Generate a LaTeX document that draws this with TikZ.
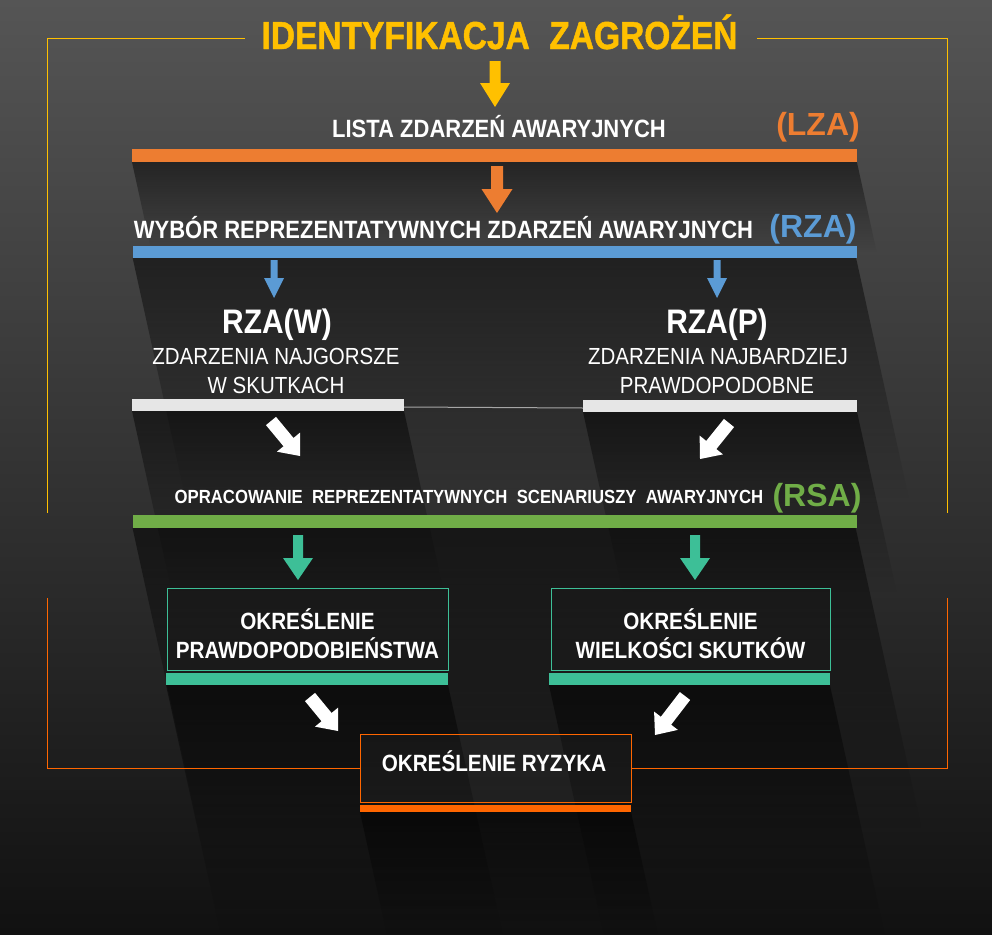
\documentclass[tikz,border=0pt]{standalone}
\usepackage{fontspec}
\setmainfont[FakeStretch=0.88]{Liberation Sans}
\newfontfamily\widefont{Liberation Sans}
\newfontfamily\heavyfont[FakeStretch=0.86,FakeBold=1.2]{Liberation Sans}
\usetikzlibrary{fadings,calc}
\definecolor{yel}{HTML}{FFC000}
\definecolor{ora}{HTML}{ED7D31}
\definecolor{org}{HTML}{FF6600}
\definecolor{blu}{HTML}{5B9BD5}
\definecolor{grn}{HTML}{70AD47}
\definecolor{tea}{HTML}{3DBF97}
\definecolor{gry}{HTML}{E6E6E6}
\definecolor{bgtop}{HTML}{555555}
\definecolor{bgmid}{HTML}{2C2C2C}
\definecolor{bgbot}{HTML}{111111}
\newcommand{\fs}[1]{\fontsize{#1}{#1}\selectfont}
% block arrow: colour, from, to, shaft half width, head half width, head length
\newcommand{\barr}[6]{%
  \fill[#1] let \p1=(#2), \p2=(#3),
    \n1={atan2(\y2-\y1,\x2-\x1)}, \n2={veclen(\x2-\x1,\y2-\y1)} in
    [shift={(\p1)},rotate=\n1]
    (0,-#4) -- ({\n2-#6},-#4) -- ({\n2-#6},-#5) -- (\n2,0) --
    ({\n2-#6},#5) -- ({\n2-#6},#4) -- (0,#4) -- cycle;}
% long shadow below a bar: x1, x2, y, length
\newcommand{\lshadow}[4]{%
  \fill[black,opacity=0.5,path fading=south]
    (#1,#3) -- (#2,#3) -- ({#2+0.22*#4},{#3+#4}) -- ({#1+0.22*#4},{#3+#4}) -- cycle;}
\begin{document}
\begin{tikzpicture}[x=1pt,y=-1pt,
  bar/.style={rectangle,inner sep=0pt,draw=none},
  lbl/.style={text=white,inner sep=0pt,anchor=base,font=\bfseries},
  tag/.style={inner sep=0pt,anchor=base,font=\widefont\bfseries\fs{32}},
  boxx/.style={rectangle,inner sep=0pt,line width=0.8pt}]
\useasboundingbox (0,0) rectangle (992,934);
\shade[top color=bgtop,middle color=bgmid,bottom color=bgbot] (0,0) rectangle (992,934);

% shadows
\lshadow{132}{857}{162}{90}
\lshadow{133}{857}{258}{240}
\lshadow{132}{404}{411}{180}
\lshadow{583}{857}{412}{180}
\lshadow{133}{857}{528}{300}
\lshadow{166}{448}{685}{249}
\lshadow{549}{830}{685}{249}
\lshadow{360}{631}{812}{122}

% frames
\draw[yel,line width=0.8pt] (245,38) -| (47,513);
\draw[yel,line width=0.8pt] (757,38) -| (947,513);

% title
\node[lbl,text=yel,font=\heavyfont\bfseries\fs{39}] (title) at (499.5,49) {IDENTYFIKACJA\hspace{0.5em}ZAGROŻEŃ};

% LZA
\node[lbl,font=\bfseries\fs{25}] (lza) at (499,137) {LISTA ZDARZEŃ AWARYJNYCH};
\node[tag,text=ora] (lzatag) at (818,135) {(LZA)};
\node[bar,fill=ora,minimum width=725pt,minimum height=13pt] (lzabar) at (494.5,155.5) {};

% RZA
\node[lbl,font=\bfseries\fs{25}] (rza) at (443.5,238) {WYBÓR REPREZENTATYWNYCH ZDARZEŃ AWARYJNYCH};
\node[tag,text=blu] (rzatag) at (813,237) {(RZA)};
\node[bar,fill=blu,minimum width=724pt,minimum height=12pt] (rzabar) at (495,252) {};

% RZA(W) / RZA(P)
\node[lbl,font=\bfseries\fs{34}] (rzaw) at (277,333) {RZA(W)};
\node[lbl,font=\mdseries\fs{23.3}] (rzaw1) at (276,364) {ZDARZENIA NAJGORSZE};
\node[lbl,font=\mdseries\fs{23.3}] (rzaw2) at (276,393) {W SKUTKACH};
\node[lbl,font=\bfseries\fs{34}] (rzap) at (717,333) {RZA(P)};
\node[lbl,font=\mdseries\fs{23.3}] (rzap1) at (718,364) {ZDARZENIA NAJBARDZIEJ};
\node[lbl,font=\mdseries\fs{23.3}] (rzap2) at (717,393) {PRAWDOPODOBNE};
\node[bar,fill=gry,minimum width=272pt,minimum height=12pt] (wbar) at (268,405) {};
\node[bar,fill=gry,minimum width=274pt,minimum height=12pt] (pbar) at (720,406) {};
\draw[gray!70,line width=1pt] ($(wbar.east)+(0,2)$) -- ($(pbar.west)+(0,2)$);

% RSA
\node[lbl,font=\bfseries\fs{19}] (rsa) at (469,503) {OPRACOWANIE\ \ REPREZENTATYWNYCH\ \ SCENARIUSZY\ \ AWARYJNYCH};
\node[tag,text=grn] (rsatag) at (817,506) {(RSA)};
\node[bar,fill=grn,minimum width=724pt,minimum height=13pt] (rsabar) at (495,521.5) {};

% boxes
\node[boxx,draw=tea,minimum width=281pt,minimum height=82pt] (pbox) at (307.5,629) {};
\node[lbl,font=\bfseries\fs{23.5}] (pboxa) at (307.5,629) {OKREŚLENIE};
\node[lbl,font=\bfseries\fs{23.5}] (pboxb) at (307.5,658) {PRAWDOPODOBIEŃSTWA};
\node[boxx,draw=tea,minimum width=279pt,minimum height=82pt] (sbox) at (690.5,629) {};
\node[lbl,font=\bfseries\fs{23.5}] (sboxa) at (690.5,629) {OKREŚLENIE};
\node[lbl,font=\bfseries\fs{23.5}] (sboxb) at (690.5,658) {WIELKOŚCI SKUTKÓW};
\node[bar,fill=tea,minimum width=282pt,minimum height=12pt] (pbar2) at (307,679) {};
\node[bar,fill=tea,minimum width=281pt,minimum height=12pt] (sbar2) at (689.5,679) {};

% risk
\node[boxx,draw=org,fill=white,fill opacity=0.03,minimum width=271pt,minimum height=68pt] (risk) at (495.5,768) {};
\node[lbl,font=\bfseries\fs{23.5}] (riska) at (494,771) {OKREŚLENIE RYZYKA};
\node[bar,fill=org,minimum width=271pt,minimum height=7pt] (riskbar) at (495.5,808.5) {};
\draw[org,line width=0.8pt] (risk.west) -| (47,598);
\draw[org,line width=0.8pt] (risk.east) -| (947,598);

% arrow end points
\coordinate (a1s) at (495,61);  \coordinate (a1e) at (495,107);
\coordinate (a2s) at (497,166); \coordinate (a2e) at (497,213);
\coordinate (a3s) at (274,260); \coordinate (a3e) at (274,298);
\coordinate (a4s) at (717,260); \coordinate (a4e) at (717,298);
\coordinate (a5s) at (271,421); \coordinate (a5e) at (300,456);
\coordinate (a6s) at (729,423); \coordinate (a6e) at (700,459);
\coordinate (a7s) at (298,535); \coordinate (a7e) at (298,580);
\coordinate (a8s) at (695,535); \coordinate (a8e) at (695,580);
\coordinate (a9s) at (310,697); \coordinate (a9e) at (338,731);
\coordinate (a10s) at (685,696); \coordinate (a10e) at (655,735);

\barr{yel}{a1s}{a1e}{5.5}{15}{24}
\barr{ora}{a2s}{a2e}{6}{15.5}{24}
\barr{blu}{a3s}{a3e}{3.5}{10}{20}
\barr{blu}{a4s}{a4e}{3.5}{10}{20}
\barr{white}{a5s}{a5e}{6.5}{15}{18}
\barr{white}{a6s}{a6e}{6.5}{15}{18}
\barr{tea}{a7s}{a7e}{5}{15}{22}
\barr{tea}{a8s}{a8e}{5}{15}{22}
\barr{white}{a9s}{a9e}{6.5}{15}{18}
\barr{white}{a10s}{a10e}{6.5}{15}{18}
\end{tikzpicture}
\end{document}
